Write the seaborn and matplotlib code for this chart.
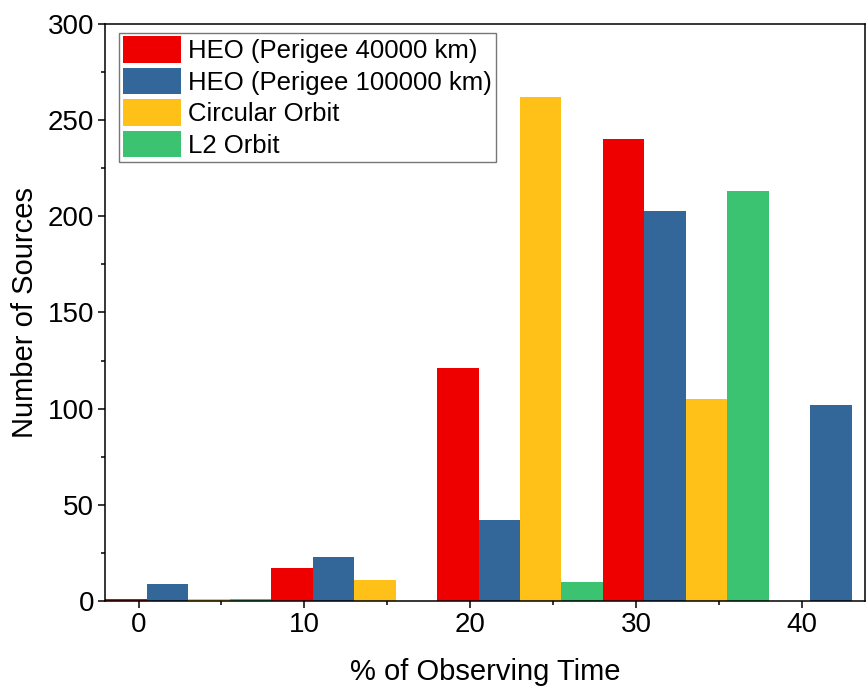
import numpy as np
import matplotlib
matplotlib.use('Agg')
import matplotlib.pyplot as plt
import matplotlib.patches as mpatches
from matplotlib.ticker import MultipleLocator
import seaborn as sns
import pandas as pd

# data
groups = [0, 10, 20, 30, 40]
series = ['HEO (Perigee 40000 km)', 'HEO (Perigee 100000 km)', 'Circular Orbit', 'L2 Orbit']
heo_40000 = [1, 17, 121, 240, 0]
heo_100000 = [9, 23, 42, 203, 102]
circular = [1, 11, 262, 105, 0]
l2 = [1, 0, 10, 213, 0]
colors = ['#EE0000', '#336699', '#FFC118', '#3BC371']

# bars of one group sit side by side, 2.5 wide, starting 2 units left of the group value
bar_w = 2.5
rows = []
for k, (name, vals) in enumerate(zip(series, [heo_40000, heo_100000, circular, l2])):
    for g, v in zip(groups, vals):
        rows.append({'pos': g - 2 + bar_w / 2 + k * bar_w, 'count': v, 'orbit': name})
df = pd.DataFrame(rows)

sns.set_theme(style='ticks')
plt.rcParams['font.family'] = ['Liberation Sans', 'DejaVu Sans']
plt.rcParams['text.color'] = 'black'
plt.rcParams['axes.labelcolor'] = 'black'

fig = plt.figure(figsize=(8.67, 6.93), dpi=100)
ax = fig.add_axes([0.1215, 0.1328, 0.8762, 0.8326])

sns.barplot(data=df, x='pos', y='count', hue='orbit', hue_order=series,
            palette=dict(zip(series, colors)), native_scale=True, dodge=False,
            width=1.0, saturation=1, linewidth=0, legend=False, ax=ax)

ax.set_xlim(-2, 43.8)
ax.set_ylim(0, 300)
ax.xaxis.set_major_locator(MultipleLocator(10))
ax.xaxis.set_minor_locator(MultipleLocator(5))
ax.yaxis.set_major_locator(MultipleLocator(50))
ax.yaxis.set_minor_locator(MultipleLocator(25))
ax.tick_params(which='major', direction='out', length=5, width=1.1, labelsize=20, pad=3,
               color='black', labelcolor='black')
ax.tick_params(which='minor', direction='out', length=3, width=1.1, color='black')
ax.tick_params(top=False, right=False, which='both')
for s in ax.spines.values():
    s.set_visible(True)
    s.set_linewidth(1.1)
    s.set_color('black')

ax.set_xlabel('% of Observing Time', fontsize=21, labelpad=14)
ax.set_ylabel('Number of Sources', fontsize=21, labelpad=6)

handles = [mpatches.Patch(facecolor=c, edgecolor='none', label=n) for n, c in zip(series, colors)]
leg = ax.legend(handles=handles, loc='upper left', bbox_to_anchor=(0.018, 0.985),
                borderaxespad=0, fontsize=18.5, frameon=True, fancybox=False,
                handlelength=2.25, handleheight=1.2, handletextpad=0.3,
                labelspacing=0.18, borderpad=0.15)
leg.get_frame().set_edgecolor('#555555')
leg.get_frame().set_linewidth(1.0)

fig.savefig('out.png', dpi=100)
